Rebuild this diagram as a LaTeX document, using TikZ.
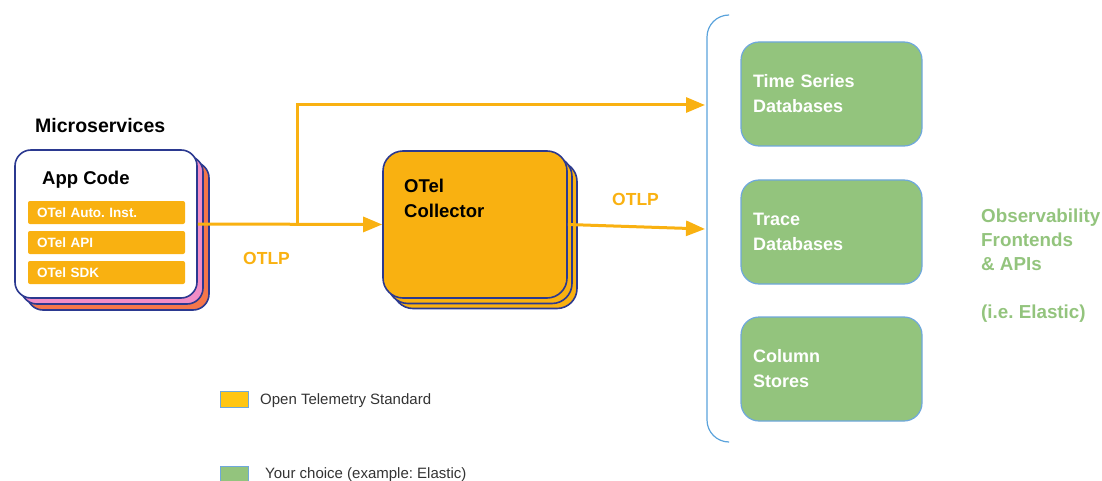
\documentclass[tikz,border=0pt]{standalone}
\usepackage{fontspec}
\setmainfont{Liberation Sans}
\usetikzlibrary{positioning,arrows.meta}
\frenchspacing

\definecolor{otelorange}{HTML}{F9B111}
\definecolor{otelyellow}{HTML}{FFC613}
\definecolor{otelnavy}{HTML}{2B3990}
\definecolor{stackpink}{HTML}{F18DC6}
\definecolor{stackred}{HTML}{F4764B}
\definecolor{choicegreen}{HTML}{93C47D}
\definecolor{choiceedge}{HTML}{6FA8DC}
\definecolor{bracketblue}{HTML}{5BA3DC}
\definecolor{legendtext}{HTML}{333333}

\begin{document}
\begin{tikzpicture}[
  x=1pt, y=-1pt,
  % GLOBAL CFG
  font=\fontsize{14}{17}\selectfont,
  % Styles
  card/.style={% For the stacked boxes
      rectangle,
      rounded corners=16pt,
      draw=otelnavy,
      line width=1.6pt,
      },
  layer/.style={% For the OTel parts inside App Code
      rectangle,
      rounded corners=2pt,
      fill=otelorange,
      text=white,
      font=\fontsize{13.5}{16}\selectfont\bfseries,
      minimum width=157pt,
      minimum height=23pt,
      text width=139pt,
      align=left,
      inner xsep=9pt,
      },
  store/.style={% For the backends
      rectangle,
      rounded corners=18pt,
      fill=choicegreen,
      draw=choiceedge,
      line width=1.2pt,
      text=white,
      font=\fontsize{18}{25}\selectfont\bfseries,
      minimum width=181pt,
      minimum height=104pt,
      text width=157pt,
      align=left,
      inner xsep=12pt,
      },
  heading/.style={% Bold black headings
      font=\fontsize{18.5}{25}\selectfont\bfseries,
      inner sep=0pt,
      align=left,
      },
  otlp/.style={% Protocol labels
      text=otelorange,
      font=\fontsize{17.5}{21}\selectfont\bfseries,
      inner sep=0pt,
      },
  swatch/.style={% Legend squares
      rectangle,
      draw=choiceedge,
      line width=1pt,
      minimum width=28pt,
      minimum height=16pt,
      inner sep=0pt,
      },
  legendtxt/.style={% Legend texts
      text=legendtext,
      font=\fontsize{15}{17}\selectfont,
      inner sep=0pt,
      },
  flow/.style={% OTLP arrows
      draw=otelorange,
      line width=3pt,
      -{Triangle[length=19pt,width=15pt]},
      },
  ]

  \useasboundingbox (0,0) rectangle (1102,481);

  % Microservices stack
  \node [heading, anchor=base west, font=\fontsize{19.5}{25}\selectfont\bfseries] (micro) at (35,133) {Microservices};
  \node [card, fill=stackred, minimum width=182pt, minimum height=148pt] (app2) at (118,236) {};
  \node [card, fill=stackpink, minimum width=182pt, minimum height=148pt] (app1) at (112,230) {};
  \node [card, fill=white, minimum width=182pt, minimum height=148pt] (app) at (106,224) {};
  \node [heading, anchor=base west] (apptitle) at (42,185) {App Code};
  \node [layer] (auto) at (106.5,212.5) {OTel Auto. Inst.};
  \node [layer] (api) at (106.5,242.5) {OTel API};
  \node [layer] (sdk) at (106.5,272.5) {OTel SDK};

  % Collector stack
  \node [card, rounded corners=20pt, fill=otelorange, minimum width=184pt, minimum height=147pt] (coll2) at (485,235) {};
  \node [card, rounded corners=20pt, fill=otelorange, minimum width=184pt, minimum height=147pt] (coll1) at (480,230) {};
  \node [card, rounded corners=20pt, fill=otelorange, minimum width=184pt, minimum height=147pt] (coll) at (475,224.5) {};
  \node [heading, anchor=north west] (colltitle) at (404,179) {OTel\\Collector};

  % Backends
  \node [store] (tsdb) at (831.5,94) {Time Series\\Databases};
  \node [store] (trdb) at (831.5,232) {Trace\\Databases};
  \node [store] (cols) at (831.5,369) {Column\\Stores};

  \draw [bracketblue, line width=1.2pt, rounded corners=22pt] (728,15) -| (707,442) -- (728,442);

  \node [heading, text=choicegreen, anchor=north west, font=\fontsize{18.8}{24}\selectfont\bfseries] (obs) at (981,208.5) {Observability\\Frontends\\\& APIs\\[24pt](i.e. Elastic)};

  % Arrows
  \coordinate (fork) at (297,225.5);
  \coordinate (tsin) at (705,105);
  \coordinate (trin) at (705,229);

  \draw [flow] (app.east) -- (coll.west);
  \draw [flow] (fork) |- (tsin);
  \draw [flow] (coll.east) -- (trin);

  \node [otlp, anchor=base west] (otlp1) at (243,264) {OTLP};
  \node [otlp, anchor=base west] (otlp2) at (612,205) {OTLP};

  % Legend
  \node [swatch, fill=otelyellow] (oss) at (234,399) {};
  \node [legendtxt, anchor=base west] (osslbl) at (260,404) {Open Telemetry Standard};
  \node [swatch, fill=choicegreen] (own) at (234,474.5) {};
  \node [legendtxt, anchor=base west] (ownlbl) at (265,478) {Your choice (example: Elastic)};

\end{tikzpicture}
\end{document}
